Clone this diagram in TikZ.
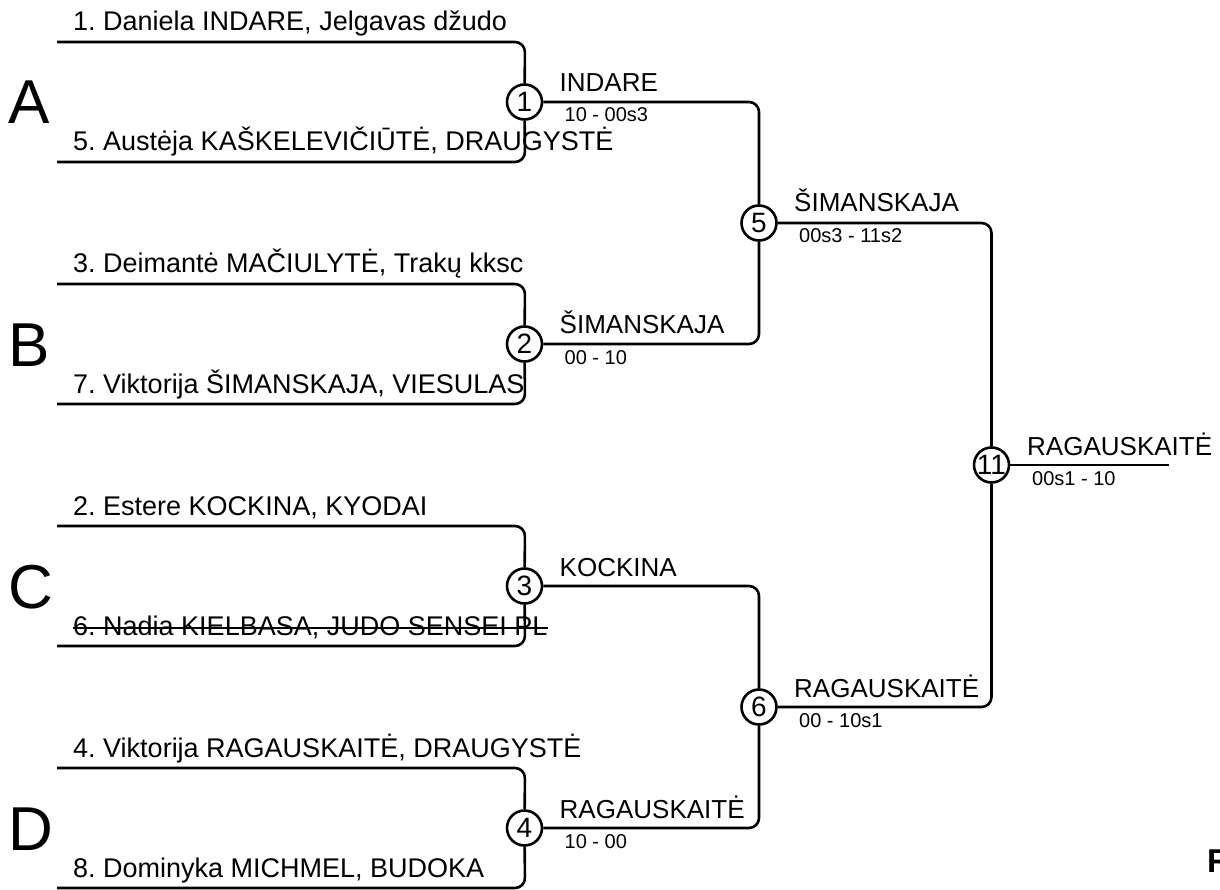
\documentclass[tikz,border=0pt]{standalone}
\usepackage{fontspec}
\setmainfont{Liberation Sans}
\frenchspacing
\begin{document}
\begin{tikzpicture}[x=1pt,y=-1pt,
  wire/.style={line width=2.6pt,rounded corners=10pt},
  match/.style={circle,draw,line width=2.6pt,fill=white,minimum size=35pt,inner sep=0pt,font=\fontsize{28}{30}\selectfont},
  entrant/.style={anchor=base west,inner sep=0pt,font=\fontsize{27}{30}\selectfont},
  winner/.style={anchor=base west,inner sep=0pt,font=\fontsize{26}{28}\selectfont},
  score/.style={anchor=base west,inner sep=0pt,font=\fontsize{20}{22}\selectfont},
  pool/.style={anchor=base west,inner sep=0pt,font=\fontsize{62}{64}\selectfont}]
\useasboundingbox (0,0) rectangle (1220,890);
% match circles
\node[match] (m1) at (524.5,102) {1};
\node[match] (m2) at (524.5,344) {2};
\node[match] (m3) at (524.5,586) {3};
\node[match] (m4) at (524.5,828) {4};
\node[match] (m5) at (759,223) {5};
\node[match] (m6) at (759,707) {6};
\node[match] (m11) at (991.5,465) {11};
% start points
\coordinate (s1) at (57,42);
\coordinate (s5) at (57,162);
\coordinate (s3) at (57,284);
\coordinate (s7) at (57,404);
\coordinate (s2) at (57,526);
\coordinate (s6) at (57,646);
\coordinate (s4) at (57,768);
\coordinate (s8) at (57,888);
\coordinate (fin) at (1169,465);
% round 1
\draw[wire] (s1) -- (525,42) -- (m1);
\draw[wire] (s5) -- (525,162) -- (m1);
\draw[wire] (s3) -- (525,284) -- (m2);
\draw[wire] (s7) -- (525,404) -- (m2);
\draw[wire] (s2) -- (525,526) -- (m3);
\draw[wire] (s6) -- (525,646) -- (m3);
\draw[wire] (s4) -- (525,768) -- (m4);
\draw[wire] (s8) -- (525,888) -- (m4);
% round 2
\draw[wire] (m1) -- (759,102) -- (m5);
\draw[wire] (m2) -- (759,344) -- (m5);
\draw[wire] (m3) -- (759,586) -- (m6);
\draw[wire] (m4) -- (759,828) -- (m6);
% final
\draw[wire] (m5) -- (991.5,223) -- (m11);
\draw[wire] (m6) -- (991.5,707) -- (m11);
\draw[wire] (m11) -- (fin);
% pool letters
\node[pool] (pA) at (8,124) {A};
\node[pool] (pB) at (8,366) {B};
\node[pool] (pC) at (8,608) {C};
\node[pool] (pD) at (8,850) {D};
% entrants
\node[entrant] (n1) at (73,31) {1. Daniela INDARE, Jelgavas džudo};
\node[entrant] (n5) at (73,151) {5. Austėja KAŠKELEVIČIŪTĖ, DRAUGYSTĖ};
\node[entrant] (n3) at (73,273) {3. Deimantė MAČIULYTĖ, Trakų kksc};
\node[entrant] (n7) at (73,393) {7. Viktorija ŠIMANSKAJA, VIESULAS};
\node[entrant] (n2) at (73,515) {2. Estere KOCKINA, KYODAI};
\node[entrant] (n6) at (73,635) {6. Nadia KIELBASA, JUDO SENSEI PL};
\node[entrant] (n4) at (73,757) {4. Viktorija RAGAUSKAITĖ, DRAUGYSTĖ};
\node[entrant] (n8) at (73,877) {8. Dominyka MICHMEL, BUDOKA};
\draw[line width=2pt] ([yshift=7pt]n6.base west) -- ([yshift=7pt]n6.base east);
% winners and scores
\node[winner] (w1) at (559.5,92) {INDARE};
\node[score] (r1) at (564.5,122) {10 - 00s3};
\node[winner] (w2) at (559.5,334) {ŠIMANSKAJA};
\node[score] (r2) at (564.5,364) {00 - 10};
\node[winner] (w3) at (559.5,576) {KOCKINA};
\node[winner] (w4) at (559.5,818) {RAGAUSKAITĖ};
\node[score] (r4) at (564.5,848) {10 - 00};
\node[winner] (w5) at (794,212) {ŠIMANSKAJA};
\node[score] (r5) at (799,243) {00s3 - 11s2};
\node[winner] (w6) at (794,697) {RAGAUSKAITĖ};
\node[score] (r6) at (799,727) {00 - 10s1};
\node[winner] (w11) at (1027,455) {RAGAUSKAITĖ};
\node[score] (r11) at (1032,485) {00s1 - 10};
% bold letter cut by the right edge, as in the reference
\node[anchor=base west,inner sep=0pt,font=\fontsize{33}{35}\selectfont\bfseries] (edge) at (1207,872) {R};
\end{tikzpicture}
\end{document}
